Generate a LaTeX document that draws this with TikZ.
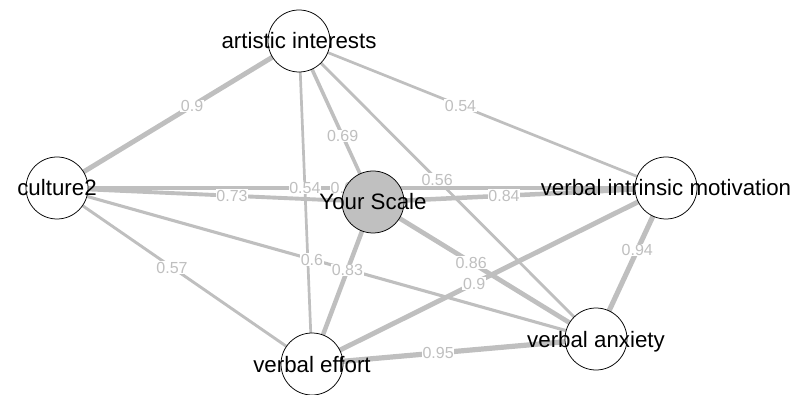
\documentclass[tikz,border=0pt]{standalone}
\usepackage{fontspec}
\setmainfont{Liberation Sans}
\pgfdeclarelayer{bg}
\pgfsetlayers{bg,main}
\definecolor{edgegray}{RGB}{191,191,191}
\definecolor{ysfill}{RGB}{192,192,192}
\tikzset{
  vert/.style={circle, draw=black, line width=0.75pt, fill=white, minimum size=62pt, inner sep=0pt},
  vtext/.style={font=\fontsize{22.3}{24}\selectfont, text height=16pt, text depth=0pt, inner sep=0pt},
  edgeline/.style={draw=edgegray, line width=#1},
  elabel/.style={fill=white, text=edgegray, font=\fontsize{16}{18}\selectfont, inner sep=0.6pt, text height=11.5pt, text depth=0pt}
}
\begin{document}
\begin{tikzpicture}[x=1pt, y=-1pt]
\useasboundingbox (0,0) rectangle (800,395);
% vertices
\node[vert, label={[vtext, name=At]center:artistic interests}] (A) at (299,41) {};
\node[vert, label={[vtext, name=Ct]center:culture2}] (C) at (57,188) {};
\node[vert, fill=ysfill, label={[vtext, name=Yt]center:Your Scale}] (Y) at (373,202) {};
\node[vert, label={[vtext, name=Mt]center:verbal intrinsic motivation}] (M) at (666,188) {};
\node[vert, label={[vtext, name=Xt]center:verbal anxiety}] (X) at (596,339) {};
\node[vert, label={[vtext, name=Et]center:verbal effort}] (E) at (312,364) {};
\begin{pgfonlayer}{bg}
\foreach \a/\b/\w in {C/A/4.9, A/Y/3.6, A/M/2.7, A/X/2.8, A/E/2.7, C/Y/3.9, C/M/3.2, C/X/3.1, C/E/2.9, Y/M/4.5, Y/X/4.7, Y/E/4.5, M/E/4.9, M/X/5.1, E/X/5.2}
  \draw[edgeline=\w pt] (\a.center) -- (\b.center);
\foreach \a/\b/\p/\t [count=\i] in {C/A/0.558/0.9, A/Y/0.59/0.69, A/M/0.44/0.54, A/X/0.465/0.56, A/E/0.455/0.54, C/Y/0.554/0.73, C/M/0.475/0.62, C/X/0.473/0.6, C/E/0.451/0.57, Y/M/0.447/0.84, Y/X/0.44/0.86, Y/E/0.42/0.83, M/E/0.542/0.9, M/X/0.41/0.94, E/X/0.444/0.95}
  \path (\a.center) -- (\b.center) node[elabel, pos=\p, name=el\i] {\t};
\end{pgfonlayer}
\end{tikzpicture}
\end{document}
